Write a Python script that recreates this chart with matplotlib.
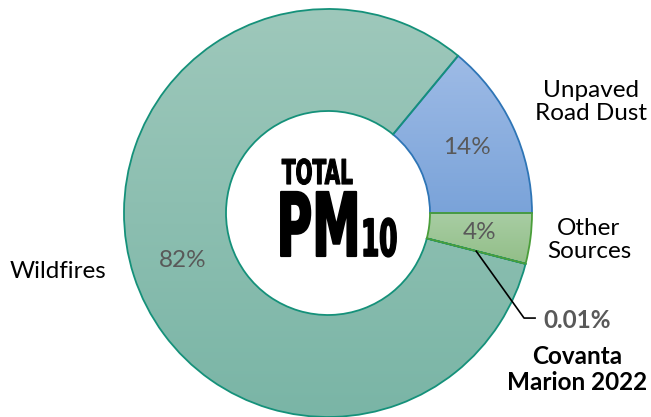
import numpy as np
import matplotlib
matplotlib.use("Agg")
import matplotlib.pyplot as plt
from matplotlib import patheffects
from matplotlib.transforms import Affine2D
from matplotlib.colors import LinearSegmentedColormap

# data
sources = ["Unpaved\nRoad Dust", "Wildfires", "Covanta\nMarion 2022", "Other\nSources"]
shares = [14, 82, 0.01, 4]

# styles
top_colors = ["#9EBBE6", "#9EC8BB", "#7FB8AA", "#A8CDA3"]
bottom_colors = ["#7AA3D9", "#7AB5A6", "#7FB8AA", "#92BE88"]
edge_colors = ["#2E75B6", "#15917A", "#15917A", "#4A9E3A"]

plt.rcParams["font.family"] = ["Lato", "DejaVu Sans"]


class Tall(patheffects.Stroke):
    # draw the text path taller, stretched up from its baseline
    def __init__(self, sy, **kw):
        super().__init__(**kw)
        self.sy = sy

    def draw_path(self, renderer, gc, tpath, affine, rgbFace=None):
        super().draw_path(renderer, gc, tpath,
                          Affine2D().scale(1, self.sy) + affine, rgbFace)


def pct(p):
    return f"{p:.0f}%" if p >= 1 else ""


fig = plt.figure(figsize=(6.51, 4.17), dpi=100)
ax = fig.add_axes([0, 0, 1, 1])

wedges, texts, autotexts = ax.pie(
    shares, startangle=0, counterclock=True, radius=1,
    colors=top_colors, autopct=pct, pctdistance=0.75,
    wedgeprops=dict(width=0.5, linewidth=1.3),
    textprops=dict(fontsize=17.5, color="#595959"))

# vertical gradient fill for each wedge
for w, c0, c1, ec in zip(wedges, top_colors, bottom_colors, edge_colors):
    ext = w.get_path().get_extents()
    cmap = LinearSegmentedColormap.from_list("g", [c0, c1])
    grad = np.linspace(0, 1, 256).reshape(-1, 1)
    im = ax.imshow(grad, cmap=cmap, extent=(ext.x0, ext.x1, ext.y0, ext.y1),
                   origin="upper", aspect="auto", zorder=1.5)
    im.set_clip_path(w)
    w.set_facecolor("none")
    w.set_edgecolor(ec)
    w.set_zorder(2)
for t in autotexts:
    t.set_zorder(4)

# outer labels
lab = dict(fontsize=17.5, color="black", ha="center", va="center", linespacing=1.12)
ax.text(1.29, 0.544, sources[0], **lab)
ax.text(-1.324, -0.289, sources[1], **lab)
ax.text(1.279, -0.132, sources[3], **lab)

# Covanta callout
cov = wedges[2]
ang = np.deg2rad(cov.theta1)
ax.plot([0.75 * np.cos(ang), 0.961, 1.015], [0.75 * np.sin(ang), -0.515, -0.515],
        color="black", lw=1.2, zorder=5)
ax.text(1.054, -0.525, f"{shares[2]:.2f}%", fontsize=17.5, fontweight="bold",
        color="#595959", ha="left", va="center")
ax.text(1.22, -0.767, sources[2], fontsize=17.5, fontweight="bold", color="black",
        ha="center", va="center", linespacing=1.12)

# center title
title = dict(family="DejaVu Sans", fontweight="bold", color="black",
             ha="left", va="baseline", zorder=6)
t1 = ax.text(-0.226, 0.142, "TOTAL", fontsize=14.4, **title)
t1.set_path_effects([Tall(1.71, linewidth=0.8, foreground="black")])
t2 = ax.text(-0.252, -0.211, "PM", fontsize=35, **title)
t2.set_path_effects([Tall(1.81, linewidth=1.5, foreground="black")])
t3 = ax.text(0.162, -0.211, "10", fontsize=18.8, **title)
t3.set_path_effects([Tall(1.96, linewidth=1.2, foreground="black")])

ax.set_xlim(-328 / 204, 323 / 204)
ax.set_ylim(-204 / 204, 213 / 204)
ax.set_aspect("auto")
ax.axis("off")

fig.savefig("out.png", dpi=100)
